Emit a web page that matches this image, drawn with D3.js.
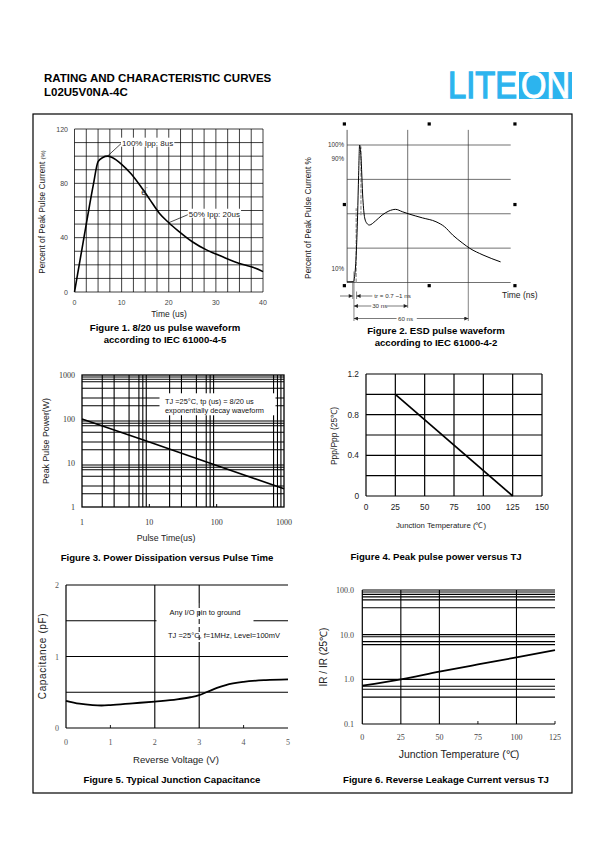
<!DOCTYPE html>
<html><head><meta charset="utf-8">
<script src="https://cdn.jsdelivr.net/npm/d3@7"></script>
<style>body{margin:0;background:#fff}svg{display:block}</style>
</head><body>
<svg id="c" width="595" height="842"></svg>
<script>
// ---------------- DATA ----------------
const headerTitle = "RATING AND CHARACTERISTIC CURVES";
const partNumber = "L02U5V0NA-4C";
const logoLeft = "LITE", logoRight = "ON";

// Figure 1: 8/20 us waveform
const f1Time = [0,1,2,3,4,5,6,7,8,10,12,14,16,18,20,22,25,28,30,32,35,38,40];
const f1Pct  = [0,20,40,60,79,96,99,100,99,94,87,78,68,58,51,45,37,31,28,25,21,18,15];
const f1XTicks = [0,10,20,30,40];
const f1YTicks = [0,40,80,120];
const f1Notes = ["100% Ipp: 8us","50% Ipp: 20us"];
const f1NoteT = [7,20], f1NoteV = [100,51];

// Figure 2: ESD waveform (t in ns, % of peak)
const f2Time = [0,3.2,3.6,4.5,5.2,5.7,6.2,6.8,7.8,8.7,9.8,11,14,17.3,20.7,24,27.3,30.7,37.3,44,48.2,52.3,57.3,60.7,67.3,76];
const f2Pct  = [0.5,0.6,3,20,49,78,100,93,61,47,43,41.8,44.7,49,52,53.2,51.5,49.8,47,44.2,40.6,34.5,28.5,24.9,20,15];
const f2LevelValues = [100,90,10];
const f2LevelText = ["100%","90%","10%"];
const f2GridV = [0,25,50,75,100];
const f2GridT = [30,60];
const f2HandleT = [-1.35,40.65,83.1], f2HandleV = [115.3,56.7,-2.3];
const f2DimText = ["tr = 0.7 ~1 ns","30 ns","60 ns"];

// Figure 3: power vs pulse time
const f3Time = [1,10,100,1000];
const f3Power = [100,30,8.8,2.6];
const f3Ticks = [1,10,100,1000];
const f3XGrid = [2,3,5,7,8,9,20,30,50,70,80,90,700,800,900];
const f3YGrid = [2,3,5,7,8,9,20,30,50,70,80,90,200,300,500,700,800,900];
const f3Note = ["TJ =25\u00b0C, tp (us) = 8/20 us","exponentially decay waveform"];

// Figure 4: derating
const f4Temp = [25,125];
const f4Ratio = [1.0,0];
const f4XTicks = [0,25,50,75,100,125,150];
const f4YTicks = [0,0.4,0.8,1.2];
const f4YGrid = [0,0.2,0.4,0.6,0.8,1.0,1.2];

// Figure 5: capacitance
const f5Volt = [0,0.3,0.6,0.8,1,1.5,2,2.5,2.8,3,3.2,3.4,3.6,4,4.5,5];
const f5Cap  = [0.38,0.34,0.32,0.315,0.32,0.345,0.37,0.40,0.43,0.46,0.51,0.56,0.60,0.645,0.67,0.68];
const f5XTicks = [0,1,2,3,4,5];
const f5YTicks = [0,1,2];
const f5YGrid = [0,0.5,1,1.5,2];
const f5XGrid = [2,3];
const f5Note = ["Any I/O pin to ground","TJ =25\u00b0C, f=1MHz, Level=100mV"];

// Figure 6: leakage
const f6Temp = [0,25,50,75,100,125];
const f6IR = [0.72,1.0,1.48,2.15,3.1,4.5];
const f6XTicks = [0,25,50,75,100,125];
const f6YTicks = [0.1,1,10,100];
const f6YTickText = ["0.1","1.0","10.0","100.0"];
const f6YGrid = [0.4,0.6,0.7,1,6,7,9,10,40,60,70,80,90,100];
const f6XGrid = [25,50,100];

const captions = [
  ["Figure 1. 8/20 us pulse waveform","according to IEC 61000-4-5"],
  ["Figure 2. ESD pulse waveform","according to IEC 61000-4-2"],
  ["Figure 3. Power Dissipation versus Pulse Time"],
  ["Figure 4. Peak pulse power versus TJ"],
  ["Figure 5. Typical Junction Capacitance"],
  ["Figure 6. Reverse Leakage Current versus TJ"]
];

// ---------------- DRAW ----------------
const SANS = "'Liberation Sans', Arial, Helvetica, sans-serif";
const SERIF = "'Liberation Serif', 'Times New Roman', serif";
const svg = d3.select('#c');
const defs = svg.append('defs');
defs.append('marker').attr('id','arr').attr('viewBox','0 0 10 10').attr('refX',10).attr('refY',5)
  .attr('markerWidth',6).attr('markerHeight',4).attr('markerUnits','userSpaceOnUse').attr('orient','auto-start-reverse')
  .append('path').attr('d','M0,0L10,5L0,10z').attr('fill','#222');

function line(g,x1,y1,x2,y2,w,c){
  return g.append('line').attr('x1',x1).attr('y1',y1).attr('x2',x2).attr('y2',y2)
    .attr('stroke',c||'#000').attr('stroke-width',w||0.8);
}
function text(g,x,y,t,opt){
  opt=opt||{};
  const e=g.append('text').attr('x',x).attr('y',y).text(t)
    .attr('font-family',opt.family||SANS).attr('font-size',opt.size||8)
    .attr('fill',opt.fill||'#111').attr('text-anchor',opt.anchor||'start');
  if(opt.weight) e.attr('font-weight',opt.weight);
  if(opt.rotate) e.attr('transform',`rotate(-90 ${x} ${y})`);
  if(opt.ls) e.attr('letter-spacing',opt.ls);
  return e;
}

// header
text(svg,44,81.5,headerTitle,{size:11.5,weight:'bold',fill:'#000'});
text(svg,44,96,partNumber,{size:11.5,weight:'bold',fill:'#000'});
const logoBlue='#2cb4ee';
text(svg,448,98.4,logoLeft,{size:36,fill:logoBlue}).attr('textLength',69).attr('lengthAdjust','spacingAndGlyphs')
  .attr('stroke',logoBlue).attr('stroke-width',1.3);
svg.append('rect').attr('x',519).attr('y',72).attr('width',53).attr('height',27).attr('fill',logoBlue);
text(svg,521,97.8,logoRight,{size:36,fill:'#fff'}).attr('textLength',49).attr('lengthAdjust','spacingAndGlyphs')
  .attr('stroke','#fff').attr('stroke-width',1);

// page frame
svg.append('rect').attr('x',33).attr('y',114).attr('width',539).attr('height',679)
  .attr('fill','none').attr('stroke','#000').attr('stroke-width',1.2);

function caption(lines,cx,y0){
  lines.forEach((l,i)=>text(svg,cx,y0+i*12,l,{size:9.6,weight:'bold',anchor:'middle',fill:'#000'}));
}

// ---------- Figure 1 ----------
{
  const g=svg.append('g');
  const x=d3.scaleLinear([0,40],[74.5,263]);
  const y=d3.scaleLinear([0,120],[292,129]);
  d3.range(0,120.01,10).forEach(v=>line(g,x(0),y(v),x(40),y(v),0.75));
  d3.range(0,40.01,2.5).forEach(t=>line(g,x(t),y(0),x(t),y(120),0.75));
  f1YTicks.forEach(v=>text(g,68,y(v)+2.5,String(v),{size:7,fill:'#444',anchor:'end'}));
  f1XTicks.forEach(t=>text(g,x(t),305,String(t),{size:7,fill:'#444',anchor:'middle'}));
  const pts=f1Time.map((t,i)=>[x(t),y(f1Pct[i])]);
  g.append('path').attr('d',d3.line().curve(d3.curveMonotoneX)(pts)).attr('fill','none').attr('stroke','#000').attr('stroke-width',1.6);
  const nx=[x(f1NoteT[0])+12.5, x(f1NoteT[1])+18];
  const ny=[y(f1NoteV[0])-11.5, y(f1NoteV[1])-7];
  f1Notes.forEach((n,i)=>{
    g.append('rect').attr('x',nx[i]+1).attr('y',ny[i]-7).attr('width',n.length*4.1).attr('height',9).attr('fill','#fff');
    line(g,nx[i]+1,ny[i]-1,x(f1NoteT[i]),y(f1NoteV[i]),0.7);
    text(g,nx[i]+2,ny[i]+1,n,{size:8,fill:'#222'});
  });
  const e=text(g,x(15)-4,y(71)-1,'e',{size:9,fill:'#222'});
  e.append('tspan').attr('font-size',6).attr('dy',-4).text("'");
  const yl=text(g,45,212,'Percent of Peak Pulse Current ',{size:8.3,fill:'#222',anchor:'middle',rotate:true});
  yl.append('tspan').attr('font-size',6).text('(%)');
  text(g,169,317,'Time (us)',{size:8.5,fill:'#222',anchor:'middle'});
  caption(captions[0],165,331);
}

// ---------- Figure 2 ----------
{
  const g=svg.append('g');
  const x=d3.scaleLinear([0,81],[347.1,510.7]);
  const y=d3.scaleLinear([0,100],[282.5,145]);
  const topV=111;
  f2GridV.forEach(v=>line(g,x(0),y(v),x(81),y(v),0.7,'#333'));
  line(g,x(0),y(0),x(0),y(topV),0.8,'#333');
  f2GridT.forEach(t=>line(g,x(t),y(0),x(t),y(topV),0.7,'#333'));
  f2HandleT.forEach((t,i)=>f2HandleV.forEach((v,j)=>{
    if(i===1 && j===1) return;
    g.append('rect').attr('x',x(t)-1.6).attr('y',y(v)-1.6).attr('width',3.2).attr('height',3.2).attr('fill','#000');
  }));
  g.append('line').attr('x1',x(4.5)).attr('y1',y(0)).attr('x2',x(4.5)).attr('y2',y(54)).attr('stroke','#999').attr('stroke-width',1.3).attr('stroke-dasharray','4,1.5');
  g.append('line').attr('x1',x(6.85)).attr('y1',y(49)).attr('x2',x(6.85)).attr('y2',y(99)).attr('stroke','#999').attr('stroke-width',1.3).attr('stroke-dasharray','4,1.5');
  const pts=f2Time.map((t,i)=>[x(t),y(f2Pct[i])]);
  g.append('path').attr('d',d3.line().curve(d3.curveMonotoneX)(pts)).attr('fill','none').attr('stroke','#000').attr('stroke-width',1);
  f2LevelValues.forEach((v,i)=>text(g,344,y(v)+2.3,f2LevelText[i],{size:6.3,fill:'#333',anchor:'end'}));
  const t0=3.4;
  line(g,x(t0),y(8),x(t0),321,0.6,'#333');
  line(g,x(2.8),y(0),x(2.8),299,0.6,'#333');
  line(g,x(30),y(0),x(30),308,0.6,'#333');
  line(g,x(60),y(0),x(60),321,0.6,'#333');
  line(g,x(4.7),291.5,x(4.7),299,0.6,'#333');
  const arrow=(x1,x2,yy)=>g.append('line').attr('x1',x1).attr('y1',yy).attr('x2',x2).attr('y2',yy).attr('stroke','#222').attr('stroke-width',0.6).attr('marker-end','url(#arr)');
  arrow(x(-3.5),x(2.8),296);
  arrow(x(7),x(4.7),296);
  line(g,x(7),296,x(12.5),296,0.6,'#222');
  text(g,x(13.5),298.2,f2DimText[0],{size:6.2,fill:'#333'});
  arrow(x(12),x(t0),306);
  text(g,x(12.4),308.2,f2DimText[1],{size:6.2,fill:'#333'});
  arrow(x(19.8),x(30),306);
  arrow(x(24.5),x(t0),318.5);
  text(g,x(25.2),320.7,f2DimText[2],{size:6.2,fill:'#333'});
  arrow(x(34.5),x(60),318.5);
  text(g,502,298,'Time (ns)',{size:8.5,fill:'#222'});
  text(g,311,218,'Percent of Peak Pulse Current %',{size:8.3,fill:'#222',anchor:'middle',rotate:true});
  caption(captions[1],436,334);
}

// ---------- Figure 3 ----------
{
  const g=svg.append('g');
  const x=d3.scaleLog([1,1000],[82,284]);
  const y=d3.scaleLog([1,1000],[507,375]);
  f3XGrid.forEach(t=>line(g,x(t),y(1),x(t),y(1000),1.1));
  f3YGrid.forEach(v=>line(g,x(1),y(v),x(1000),y(v),1.1));
  g.append('rect').attr('x',x(1)).attr('y',y(1000)).attr('width',x(1000)-x(1)).attr('height',y(1)-y(1000))
    .attr('fill','none').attr('stroke','#000').attr('stroke-width',1.3);
  [10,100].forEach(t=>line(g,x(t),y(1),x(t),y(1)-3,1));
  g.append('rect').attr('x',159.5).attr('y',393.3).attr('width',116).attr('height',22).attr('fill','#fff');
  text(g,165,403.5,f3Note[0],{size:7.4,fill:'#111'});
  text(g,165,412.5,f3Note[1],{size:7.4,fill:'#111'});
  const pts=f3Time.map((t,i)=>[x(t),y(f3Power[i])]);
  g.append('path').attr('d',d3.line()(pts)).attr('fill','none').attr('stroke','#000').attr('stroke-width',1.6);
  f3Ticks.forEach(v=>text(g,75,y(v)+3,String(v),{size:8,family:SERIF,fill:'#333',anchor:'end'}));
  f3Ticks.forEach(t=>text(g,x(t),525,String(t),{size:8,family:SERIF,fill:'#333',anchor:'middle'}));
  text(g,49,441,'Peak Pulse Power(W)',{size:8.8,fill:'#222',anchor:'middle',rotate:true});
  text(g,166,540.5,'Pulse Time(us)',{size:8.8,fill:'#222',anchor:'middle'});
  caption(captions[2],167,560.5);
}

// ---------- Figure 4 ----------
{
  const g=svg.append('g');
  const x=d3.scaleLinear([0,150],[366,542]);
  const y=d3.scaleLinear([0,1.2],[496,374]);
  f4XTicks.forEach(t=>line(g,x(t),y(0),x(t),y(1.2),1.2));
  f4YGrid.forEach(v=>line(g,x(0),y(v),x(150),y(v),1.2));
  const pts=f4Temp.map((t,i)=>[x(t),y(f4Ratio[i])]);
  g.append('path').attr('d',d3.line()(pts)).attr('fill','none').attr('stroke','#000').attr('stroke-width',1.7);
  f4YTicks.forEach(v=>text(g,359,y(v)+3,String(v),{size:8.3,fill:'#222',anchor:'end'}));
  f4XTicks.forEach(t=>text(g,x(t),510,String(t),{size:8.3,fill:'#222',anchor:'middle'}));
  text(g,337,436,'Ppp/Ppp (25\u2103)',{size:8.5,fill:'#222',anchor:'middle',rotate:true});
  text(g,441,528,'Junction Temperature (\u2103)',{size:7.8,fill:'#222',anchor:'middle'});
  caption(captions[3],436,559.5);
}

// ---------- Figure 5 ----------
{
  const g=svg.append('g');
  const x=d3.scaleLinear([0,5],[66,288]);
  const y=d3.scaleLinear([0,2],[728,585]);
  f5YGrid.forEach(v=>line(g,x(0),y(v),x(5),y(v),1.1));
  f5XGrid.forEach(t=>line(g,x(t),y(0),x(t),y(2),1.1));
  line(g,x(0),y(0),x(0),y(2),1.2);
  [1,4].forEach(t=>line(g,x(t),y(0),x(t),y(0)-3,0.9));
  g.append('rect').attr('x',156.5).attr('y',603).attr('width',97).attr('height',39).attr('fill','#fff');
  g.append('line').attr('x1',x(3)).attr('y1',603).attr('x2',x(3)).attr('y2',642).attr('stroke','#000').attr('stroke-width',1).attr('stroke-dasharray','5,3');
  text(g,169.5,615,f5Note[0],{size:7.5,fill:'#111'});
  text(g,168,637.5,f5Note[1],{size:7.5,fill:'#111'});
  const pts=f5Volt.map((t,i)=>[x(t),y(f5Cap[i])]);
  g.append('path').attr('d',d3.line().curve(d3.curveMonotoneX)(pts)).attr('fill','none').attr('stroke','#000').attr('stroke-width',1.8);
  f5YTicks.forEach(v=>text(g,59,y(v)+3,String(v),{size:8,family:SERIF,fill:'#555',anchor:'end'}));
  f5XTicks.forEach(t=>text(g,x(t),745,String(t),{size:8,family:SERIF,fill:'#555',anchor:'middle'}));
  text(g,46,656,'Capacitance (pF)',{size:10,fill:'#222',anchor:'middle',rotate:true,ls:0.6});
  text(g,176,763,'Reverse Voltage (V)',{size:9.6,fill:'#222',anchor:'middle'});
  caption(captions[4],172,782.5);
}

// ---------- Figure 6 ----------
{
  const g=svg.append('g');
  const x=d3.scaleLinear([0,125],[362.3,555]);
  const y=d3.scaleLog([0.1,100],[724,590]);
  f6YGrid.forEach(v=>line(g,x(0),y(v),x(125),y(v),1.1));
  f6XGrid.forEach(t=>line(g,x(t),y(0.1),x(t),y(100),1.1));
  line(g,x(0),y(0.1),x(0),y(100),1.2);
  line(g,x(0),y(0.1),x(125),y(0.1),1.2);
  [75,125].forEach(t=>line(g,x(t),y(0.1),x(t),y(0.1)-3,0.9));
  const pts=f6Temp.map((t,i)=>[x(t),y(f6IR[i])]);
  g.append('path').attr('d',d3.line().curve(d3.curveMonotoneX)(pts)).attr('fill','none').attr('stroke','#000').attr('stroke-width',1.8);
  f6YTicks.forEach((v,i)=>text(g,354,y(v)+3,f6YTickText[i],{size:8,family:SERIF,fill:'#444',anchor:'end'}));
  f6XTicks.forEach(t=>text(g,x(t),740,String(t),{size:8,family:SERIF,fill:'#444',anchor:'middle'}));
  text(g,327,657,'IR / IR (25\u2103)',{size:10,fill:'#222',anchor:'middle',rotate:true});
  text(g,459,758,'Junction Temperature (\u2103)',{size:10.5,fill:'#222',anchor:'middle'});
  caption(captions[5],446,782.5);
}
</script>
</body></html>
